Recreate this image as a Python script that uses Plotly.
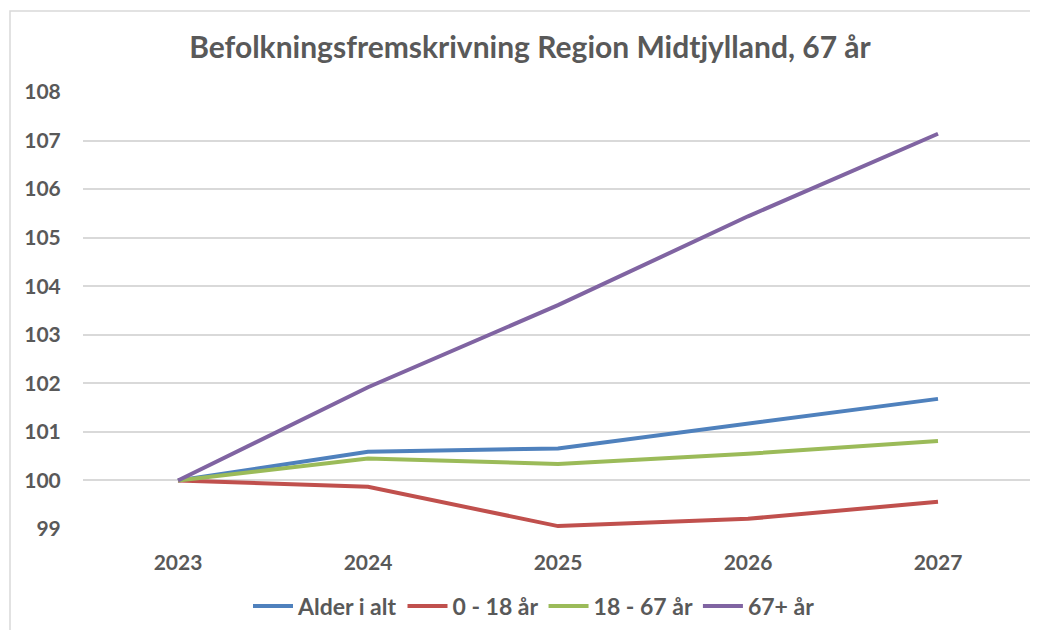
import plotly.graph_objects as go

years = ["2023", "2024", "2025", "2026", "2027"]
series_names = ["Alder i alt", "0 - 18 år", "18 - 67 år", "67+ år"]
alder_i_alt = [100.0, 100.59, 100.66, 101.17, 101.68]
aar_0_18 = [100.0, 99.87, 99.06, 99.21, 99.56]
aar_18_67 = [100.0, 100.45, 100.34, 100.55, 100.81]
aar_67plus = [100.0, 101.92, 103.61, 105.44, 107.14]
colors = ["#4F81BD", "#C0504D", "#9BBB59", "#8064A2"]
y_ticks = [99, 100, 101, 102, 103, 104, 105, 106, 107, 108]

TXT = "#595959"
FONT = "Lato"

fig = go.Figure()
for name, vals, col in zip(series_names, [alder_i_alt, aar_0_18, aar_18_67, aar_67plus], colors):
    fig.add_trace(go.Scatter(x=list(range(len(years))), y=vals, name=name, mode="lines",
                             line=dict(color=col, width=4)))

# page offset (body margin) compensation
OFF = 8
W, H = 1038, 630
L, T = 83 - OFF, 92 - OFF
R = W - (1033 - OFF)
B = H - (529 - OFF)
pw, ph = W - L - R, H - T - B

def px_x(x):
    return (x - OFF - L) / pw

def px_y(y):
    return (H - B - (y - OFF)) / ph

fig.update_layout(
    width=W, height=H,
    margin=dict(l=L, r=R, t=T, b=B, autoexpand=False),
    paper_bgcolor="white", plot_bgcolor="white",
    title=dict(text="Befolkningsfremskrivning Region Midtjylland, 67 år",
               x=(530 - OFF) / W, xanchor="center", y=1 - (47 - OFF) / H, yanchor="middle",
               font=dict(family=FONT, size=30, color=TXT, weight="bold")),
    font=dict(family=FONT, color=TXT),
    xaxis=dict(tickmode="array", tickvals=list(range(len(years))), ticktext=years,
               range=[-0.5, len(years) - 0.5], showgrid=False, zeroline=False,
               showline=False, ticks="outside", ticklen=15, tickcolor="rgba(0,0,0,0)",
               tickfont=dict(family=FONT, size=21, color=TXT, weight="bold")),
    yaxis=dict(tickvals=y_ticks, range=[99, 108], showgrid=True, gridcolor="#D9D9D9",
               gridwidth=1.5, zeroline=False, showline=False, ticks="outside", ticklen=17,
               tickcolor="rgba(0,0,0,0)",
               tickfont=dict(family=FONT, size=21, color=TXT, weight="bold")),
    legend=dict(orientation="h", x=px_x(534), xanchor="center",
                y=px_y(606), yanchor="middle",
                font=dict(family=FONT, size=23, color=TXT, weight="bold"),
                itemwidth=40, tracegroupgap=0),
    showlegend=True,
    shapes=[dict(type="rect", xref="paper", yref="paper",
                 x0=px_x(10), x1=px_x(W + 20), y0=px_y(H + 20), y1=px_y(11),
                 line=dict(color="#D9D9D9", width=1.5), fillcolor="rgba(0,0,0,0)",
                 layer="below")],
)

fig.write_html("out.html")
